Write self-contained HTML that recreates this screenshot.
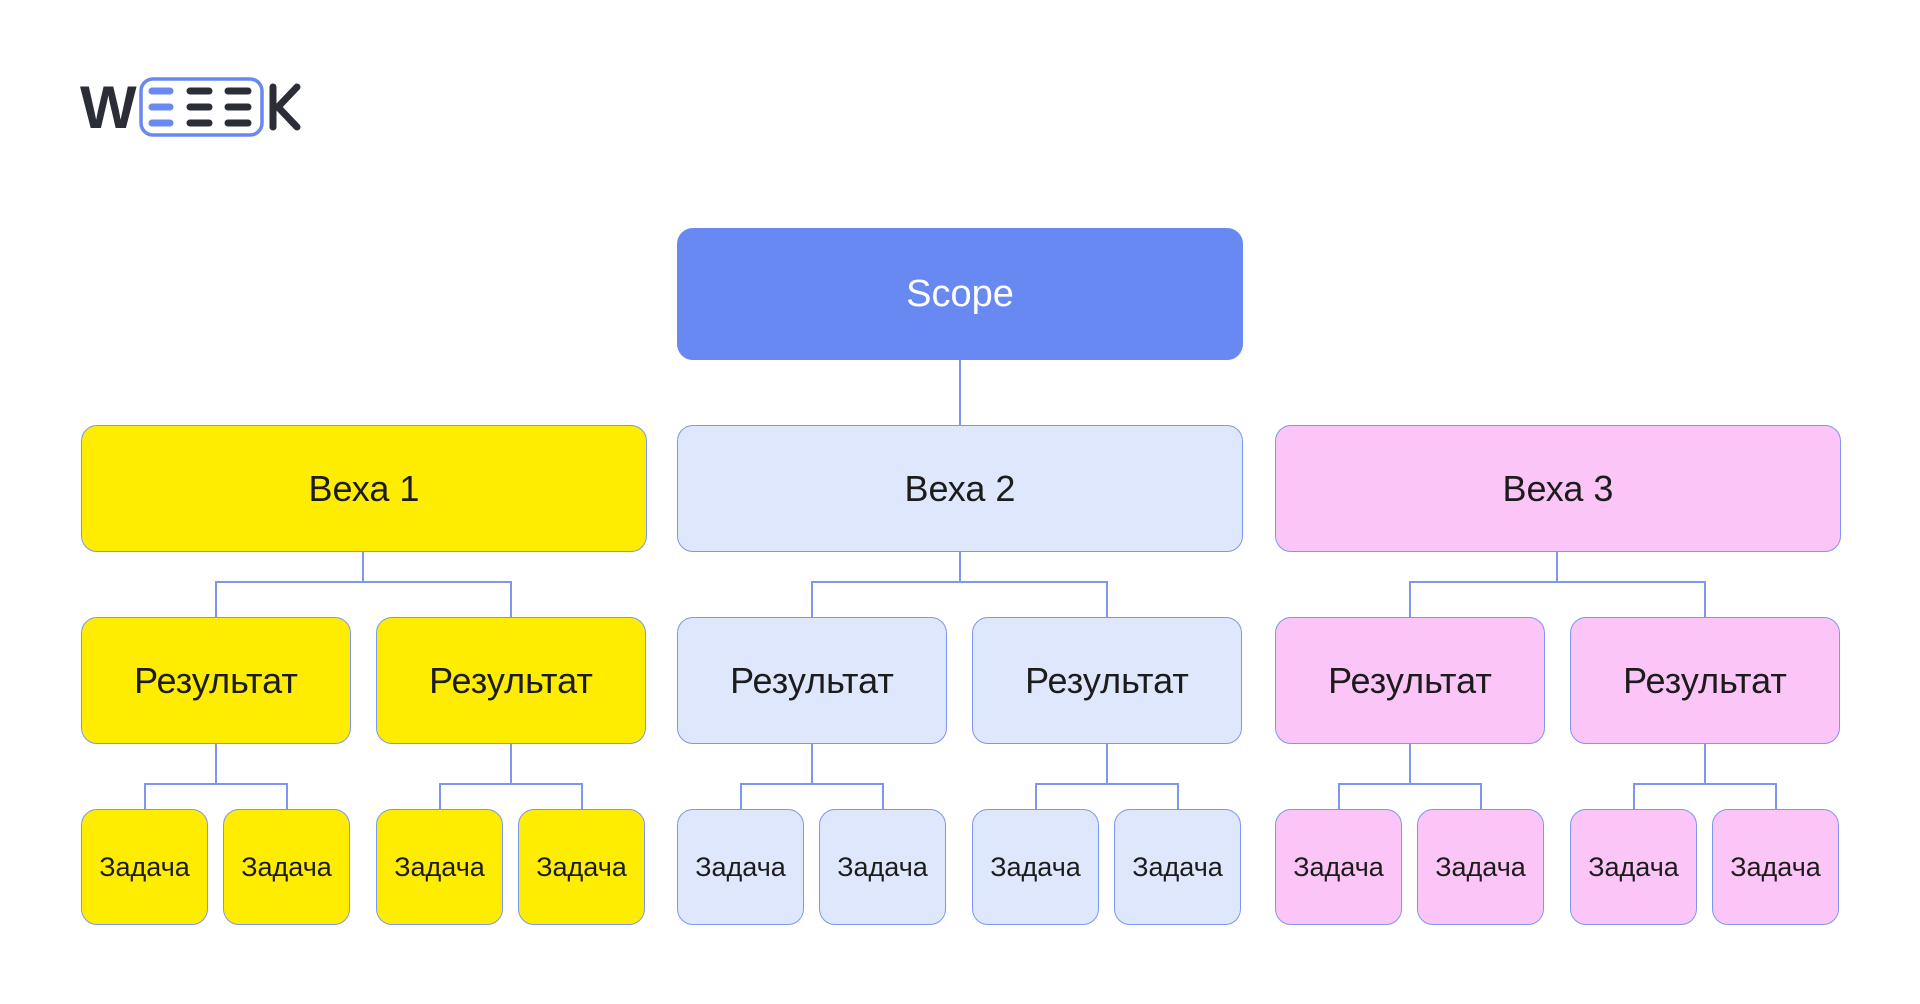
<!DOCTYPE html>
<html><head><meta charset="utf-8"><style>
body{margin:0;width:1920px;height:1004px;background:#fff;position:relative;overflow:hidden;font-family:"Liberation Sans","DejaVu Sans",sans-serif;}
.b{position:absolute;box-sizing:border-box;border:1.5px solid #7d96f0;border-radius:16px;display:flex;align-items:center;justify-content:center;color:#1c1c1c;}
.y{background:#ffed00}.l{background:#dee7fc}.p{background:#fcc5f7}
.v{top:425px;height:127px;width:566px;font-size:36px}
.r{top:617px;height:127px;width:270px;font-size:36px}
.t{top:809px;height:116px;width:127px;font-size:27px}
svg{position:absolute;left:0;top:0}
</style></head><body>
<svg width="1920" height="1004">
<g stroke="#7d96f0" stroke-width="2" fill="none" id="lines"></g>
<!-- logo -->
<text x="80" y="128" font-family="Liberation Sans" font-weight="bold" font-size="60" fill="#2b2e36">W</text>
<rect x="141" y="79" width="121" height="56" rx="12" fill="none" stroke="#6889f2" stroke-width="3.5"/>
<g stroke-linecap="round" stroke-width="7">
<line x1="152" y1="91" x2="170" y2="91" stroke="#6889f2"/><line x1="152" y1="107" x2="170" y2="107" stroke="#6889f2"/><line x1="152" y1="123" x2="170" y2="123" stroke="#6889f2"/>
<line x1="190" y1="91" x2="209" y2="91" stroke="#2b2e36"/><line x1="190" y1="107" x2="209" y2="107" stroke="#2b2e36"/><line x1="190" y1="123" x2="209" y2="123" stroke="#2b2e36"/>
<line x1="228" y1="91" x2="248" y2="91" stroke="#2b2e36"/><line x1="228" y1="107" x2="248" y2="107" stroke="#2b2e36"/><line x1="228" y1="123" x2="248" y2="123" stroke="#2b2e36"/>
</g>
<g stroke="#2b2e36" stroke-width="7" stroke-linecap="round" fill="none">
<line x1="273" y1="87" x2="273" y2="127"/><polyline points="297,87 278,107 297,127"/>
</g>
<g stroke="#7d96f0" stroke-width="2" fill="none">
<line x1="960" y1="360" x2="960" y2="425"/>
<path d="M363 552V582M216 617V582H511V617"/>
<path d="M960 552V582M812 617V582H1107V617"/>
<path d="M1557 552V582M1410 617V582H1705V617"/>
<path d="M216 744V784M145 809V784H287V809"/>
<path d="M511 744V784M440 809V784H582V809"/>
<path d="M812 744V784M741 809V784H883V809"/>
<path d="M1107 744V784M1036 809V784H1178V809"/>
<path d="M1410 744V784M1339 809V784H1481V809"/>
<path d="M1705 744V784M1634 809V784H1776V809"/>
</g>
</svg>
<div class="b" style="left:677px;top:228px;width:566px;height:132px;background:#6889f2;border-color:#6889f2;color:#fff;font-size:38px">Scope</div>
<div class="b v y" style="left:81px">Веха 1</div>
<div class="b v l" style="left:677px">Веха 2</div>
<div class="b v p" style="left:1275px">Веха 3</div>
<div class="b r y" style="left:81px">Результат</div>
<div class="b r y" style="left:376px">Результат</div>
<div class="b r l" style="left:677px">Результат</div>
<div class="b r l" style="left:972px">Результат</div>
<div class="b r p" style="left:1275px">Результат</div>
<div class="b r p" style="left:1570px">Результат</div>
<div class="b t y" style="left:81px">Задача</div>
<div class="b t y" style="left:223px">Задача</div>
<div class="b t y" style="left:376px">Задача</div>
<div class="b t y" style="left:518px">Задача</div>
<div class="b t l" style="left:677px">Задача</div>
<div class="b t l" style="left:819px">Задача</div>
<div class="b t l" style="left:972px">Задача</div>
<div class="b t l" style="left:1114px">Задача</div>
<div class="b t p" style="left:1275px">Задача</div>
<div class="b t p" style="left:1417px">Задача</div>
<div class="b t p" style="left:1570px">Задача</div>
<div class="b t p" style="left:1712px">Задача</div>
</body></html>
